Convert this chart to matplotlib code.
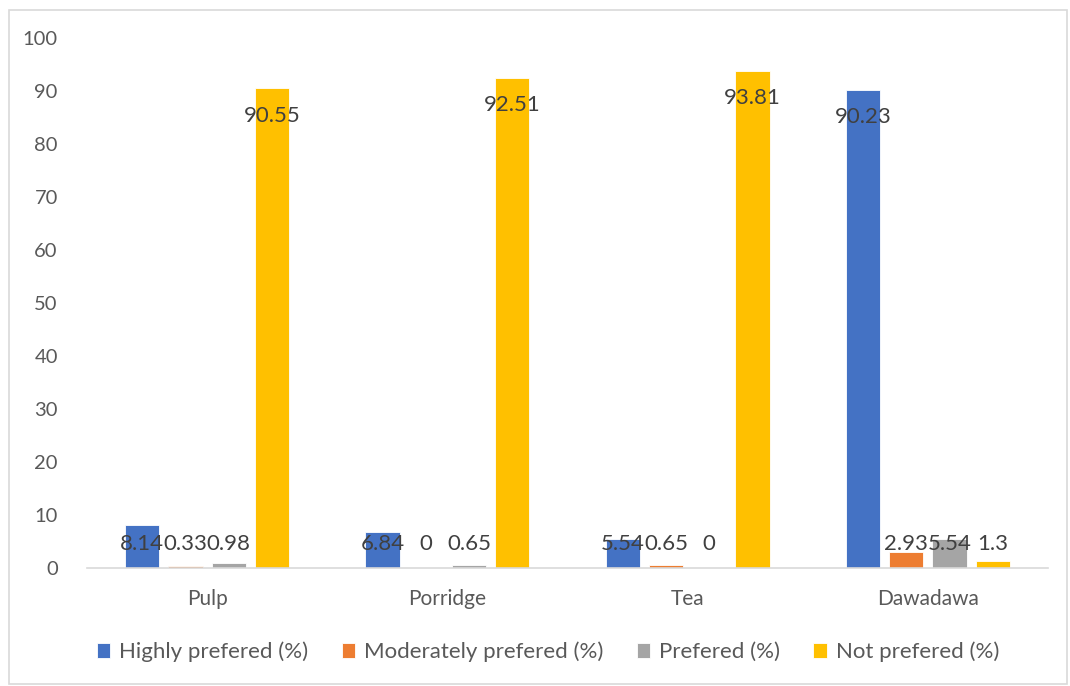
import matplotlib.pyplot as plt
import numpy as np
from matplotlib.patches import Rectangle

# Données
categories = ["Pulp", "Porridge", "Tea", "Dawadawa"]
series = ["Highly prefered (%)", "Moderately prefered (%)", "Prefered (%)", "Not prefered (%)"]
highly = [8.14, 6.84, 5.54, 90.23]
moderately = [0.33, 0, 0.65, 2.93]
prefered = [0.98, 0.65, 0, 5.54]
not_prefered = [90.55, 92.51, 93.81, 1.3]
couleurs = ["#4472C4", "#ED7D31", "#A5A5A5", "#FFC000"]

plt.rcParams['font.family'] = ['Lato', 'DejaVu Sans']
texte = "#595959"

fig = plt.figure(figsize=(10.7, 6.86), dpi=100)
ax = fig.add_axes([87 / 1070, 1 - 568 / 686, 961 / 1070, 530 / 686])

# Cadre du graphique
fig.patches.append(Rectangle((9 / 1070, 1 - 684 / 686), 1058 / 1070, 674 / 686,
                             transform=fig.transFigure, fill=False,
                             edgecolor="#d9d9d9", linewidth=1.2))

x = np.arange(len(categories))
pas = 0.18
largeur = 0.143
for i, (nom, vals) in enumerate(zip(series, [highly, moderately, prefered, not_prefered])):
    pos = x + (i - 1.5) * pas
    ax.bar(pos, vals, largeur, color=couleurs[i], edgecolor="white", linewidth=0.6, label=nom, zorder=2)
    for px, v in zip(pos, vals):
        ax.text(px, max(v - 5.2, 4.6), f"{v:g}", ha="center", va="center",
                fontsize=16, color="#404040", zorder=3)

ax.set_xlim(-0.5, 3.5)
ax.set_ylim(0, 100)
ax.set_yticks(range(0, 101, 10))
ax.set_xticks(x)
ax.set_xticklabels(categories)
ax.tick_params(axis="both", length=0, labelsize=15, colors=texte)
ax.tick_params(axis="y", labelsize=14.5, pad=21)
ax.tick_params(axis="x", pad=15)
for s in ["top", "right", "left"]:
    ax.spines[s].set_visible(False)
ax.spines["bottom"].set_color("#d9d9d9")
ax.spines["bottom"].set_linewidth(1.2)

leg = fig.legend(loc="center", bbox_to_anchor=(548 / 1070, 1 - 652 / 686), ncol=4, frameon=False,
                 fontsize=16, handlelength=0.6, handleheight=0.6, handletextpad=0.4,
                 columnspacing=1.5)
for t in leg.get_texts():
    t.set_color(texte)

fig.savefig("out.png", dpi=100)
